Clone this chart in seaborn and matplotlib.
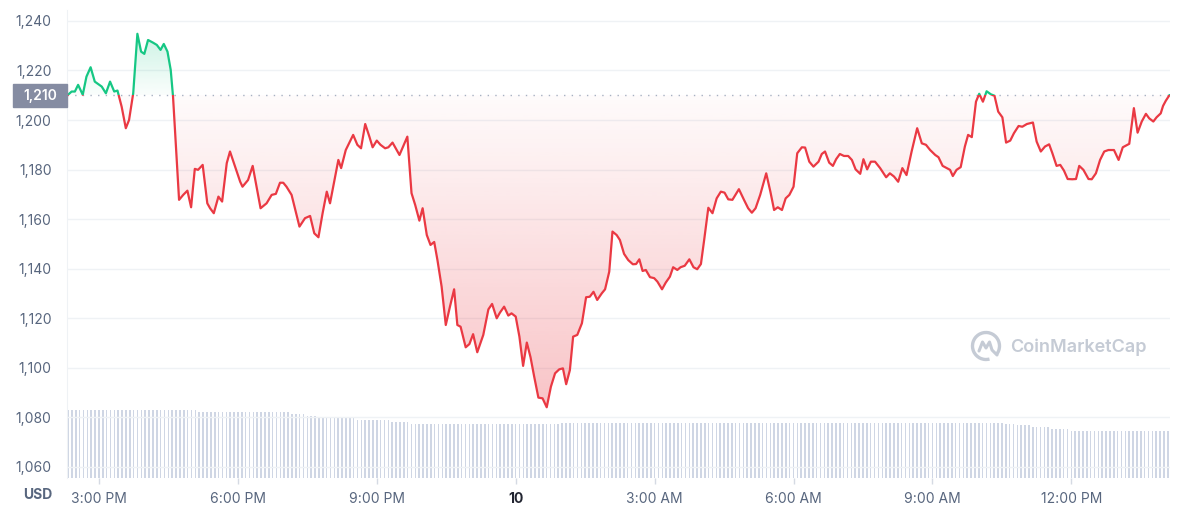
import numpy as np
import pandas as pd
import matplotlib
matplotlib.use("Agg")
import matplotlib.pyplot as plt
import seaborn as sns
from matplotlib.patches import Rectangle, Arc
from matplotlib.path import Path
from matplotlib.lines import Line2D
from matplotlib.transforms import blended_transform_factory, IdentityTransform
from matplotlib.colors import to_rgb

# Waktu dalam jam sejak tengah malam hari sebelumnya (24 = tanggal 10, 00:00)
jam = [
    14.32, 14.41, 14.48, 14.55, 14.65, 14.73, 14.82, 14.91, 15.06, 15.15,
    15.24, 15.33, 15.40, 15.49, 15.58, 15.65, 15.74, 15.83, 15.91, 15.98,
    16.06, 16.17, 16.25, 16.33, 16.40, 16.48, 16.55, 16.60, 16.73, 16.82,
    16.91, 16.99, 17.07, 17.14, 17.24, 17.34, 17.40, 17.48, 17.58, 17.66,
    17.76, 17.83, 17.94, 18.05, 18.10, 18.22, 18.32, 18.49, 18.62, 18.73,
    18.82, 18.91, 18.98, 19.05, 19.16, 19.33, 19.45, 19.56, 19.65, 19.74,
    19.83, 19.92, 19.99, 20.08, 20.17, 20.23, 20.33, 20.49, 20.58, 20.66,
    20.75, 20.84, 20.91, 21.00, 21.08, 21.18, 21.25, 21.34, 21.49, 21.66,
    21.75, 21.83, 21.92, 21.99, 22.08, 22.16, 22.24, 22.31, 22.40, 22.49,
    22.58, 22.67, 22.74, 22.81, 22.92, 23.00, 23.08, 23.17, 23.30, 23.41,
    23.49, 23.59, 23.66, 23.75, 23.84, 23.91, 24.00, 24.08, 24.16, 24.24,
    24.32, 24.40, 24.49, 24.58, 24.67, 24.76, 24.85, 24.94, 25.02, 25.09,
    25.17, 25.24, 25.33, 25.43, 25.52, 25.60, 25.68, 25.76, 25.86, 25.93,
    26.02, 26.09, 26.18, 26.25, 26.34, 26.43, 26.53, 26.60, 26.67, 26.74,
    26.81, 26.90, 26.99, 27.06, 27.16, 27.24, 27.33, 27.40, 27.49, 27.56,
    27.65, 27.75, 27.84, 27.92, 28.00, 28.07, 28.16, 28.25, 28.34, 28.43,
    28.51, 28.59, 28.68, 28.82, 28.93, 29.02, 29.10, 29.18, 29.28, 29.41,
    29.50, 29.58, 29.66, 29.75, 29.83, 29.91, 30.00, 30.08, 30.18, 30.25,
    30.34, 30.43, 30.54, 30.61, 30.68, 30.77, 30.85, 30.92, 31.00, 31.09,
    31.18, 31.26, 31.34, 31.44, 31.51, 31.59, 31.67, 31.76, 31.87, 32.00,
    32.08, 32.17, 32.26, 32.35, 32.44, 32.55, 32.67, 32.77, 32.86, 32.95,
    33.06, 33.13, 33.22, 33.31, 33.38, 33.44, 33.52, 33.61, 33.70, 33.77,
    33.85, 33.94, 34.01, 34.09, 34.17, 34.26, 34.34, 34.42, 34.51, 34.59,
    34.68, 34.76, 34.86, 34.94, 35.04, 35.17, 35.25, 35.34, 35.43, 35.52,
    35.59, 35.68, 35.76, 35.84, 35.92, 36.02, 36.10, 36.17, 36.26, 36.37,
    36.44, 36.53, 36.62, 36.71, 36.80, 36.92, 37.02, 37.11, 37.25, 37.35,
    37.43, 37.52, 37.61, 37.68, 37.77, 37.84, 37.93, 37.98, 38.04, 38.09,
    38.12,
]
# Harga (USD)
harga = [
    1210.0, 1211.5, 1211.5, 1214.2, 1210.2, 1217.5, 1221.3, 1215.5, 1213.5, 1210.8,
    1215.5, 1211.5, 1211.9, 1205.4, 1196.7, 1200.0, 1210.8, 1234.8, 1227.6, 1226.7,
    1232.3, 1231.2, 1230.3, 1228.3, 1230.7, 1227.6, 1220.2, 1209.4, 1167.8, 1169.8,
    1171.5, 1164.8, 1180.3, 1179.9, 1181.9, 1166.4, 1164.4, 1162.4, 1169.1, 1167.1,
    1182.6, 1187.3, 1181.2, 1175.1, 1173.1, 1175.8, 1181.5, 1164.4, 1166.4, 1169.8,
    1170.2, 1174.7, 1174.7, 1173.1, 1169.8, 1157.0, 1160.4, 1161.3, 1154.3, 1152.7,
    1162.4, 1171.1, 1166.4, 1175.1, 1183.9, 1180.6, 1187.9, 1194.0, 1190.0, 1188.6,
    1198.4, 1193.3, 1189.0, 1191.7, 1190.0, 1188.6, 1189.0, 1190.9, 1185.9, 1193.3,
    1170.5, 1165.7, 1159.4, 1164.4, 1153.6, 1149.6, 1150.8, 1143.5, 1132.8, 1117.3,
    1124.7, 1131.7, 1117.3, 1116.6, 1108.3, 1109.6, 1113.6, 1106.3, 1113.3, 1123.6,
    1125.8, 1120.0, 1122.3, 1124.7, 1121.1, 1122.0, 1120.7, 1112.6, 1100.8, 1110.2,
    1104.3, 1096.4, 1088.0, 1087.7, 1084.1, 1092.4, 1097.8, 1099.4, 1099.8, 1093.4,
    1099.1, 1112.6, 1113.3, 1118.0, 1128.5, 1128.7, 1130.7, 1127.4, 1130.1, 1131.7,
    1138.8, 1155.0, 1153.6, 1151.6, 1146.0, 1143.5, 1141.8, 1141.9, 1143.8, 1139.1,
    1139.5, 1136.6, 1136.2, 1134.8, 1131.7, 1134.4, 1136.8, 1140.6, 1139.5, 1140.6,
    1141.2, 1143.8, 1140.6, 1139.8, 1141.9, 1151.6, 1164.6, 1162.4, 1168.4, 1171.1,
    1170.7, 1168.0, 1167.8, 1172.1, 1167.8, 1164.4, 1162.6, 1164.4, 1169.8, 1178.5,
    1171.1, 1163.7, 1164.8, 1163.7, 1168.4, 1169.8, 1173.1, 1186.6, 1189.0, 1188.9,
    1183.2, 1181.2, 1183.2, 1186.3, 1187.3, 1182.8, 1181.5, 1184.2, 1186.3, 1185.5,
    1185.5, 1183.9, 1180.1, 1178.3, 1184.2, 1180.1, 1183.2, 1183.2, 1180.6, 1176.9,
    1178.5, 1177.2, 1175.1, 1180.6, 1177.8, 1187.3, 1196.7, 1190.6, 1190.0, 1187.9,
    1185.9, 1185.0, 1181.5, 1180.6, 1179.9, 1177.4, 1179.9, 1181.0, 1189.3, 1194.0,
    1193.1, 1207.4, 1210.6, 1207.4, 1211.6, 1210.4, 1209.8, 1203.4, 1201.1, 1190.9,
    1191.7, 1194.7, 1197.6, 1197.3, 1198.4, 1199.0, 1191.3, 1187.3, 1189.3, 1190.2,
    1186.6, 1181.5, 1181.9, 1179.6, 1176.2, 1176.1, 1176.2, 1181.5, 1179.9, 1176.2,
    1176.1, 1178.5, 1183.9, 1187.3, 1187.9, 1187.9, 1183.9, 1189.0, 1190.4, 1204.8,
    1194.9, 1199.4, 1202.5, 1200.7, 1199.4, 1201.1, 1202.7, 1205.7, 1207.8, 1209.2,
    1210.1,
]
harga_acuan = 1210

# Volume per 5 menit (satuan relatif), ditulis per blok yang tingginya sama
level_volume = [68, 66.5, 64.5, 62.5, 61, 58.5, 56, 54, 55, 55.5, 54.5, 53, 51, 49, 47]
jumlah_batang = [34, 24, 4, 3, 10, 9, 5, 39, 62, 53, 3, 4, 5, 5, 26]
volume = np.repeat(level_volume, jumlah_batang)
waktu_volume = 14 + 20 / 60 + np.arange(len(volume)) * 5 / 60

tick_y = list(range(1060, 1241, 20))
tick_x = [15, 18, 21, 24, 27, 30, 33, 36]
label_x = ["3:00 PM", "6:00 PM", "9:00 PM", "10", "3:00 AM", "6:00 AM", "9:00 AM", "12:00 PM"]

merah = "#ea3943"
hijau = "#16c784"
abu = "#58667e"
xmin, xmax = 14.31, 38.13
ymin, ymax = 1055.56, 1244.4

sns.set_style("white")
plt.rcParams["font.family"] = ["Inter", "DejaVu Sans"]

fig = plt.figure(figsize=(11.82, 5.09), dpi=100)
ax = fig.add_axes([67 / 1182, 1 - 478 / 509, 1103 / 1182, 468 / 509])
ax_vol = ax.twinx()

# batang volume di bagian bawah
ax_vol.bar(waktu_volume, volume, width=0.034, color="#cfd6e4", linewidth=0)
ax_vol.set_ylim(0, 468)
ax_vol.set_axis_off()
ax_vol.set_zorder(1)
ax.set_zorder(2)
ax.patch.set_visible(False)


def isi_gradien(kondisi, warna, y_bawah, y_atas, alpha_bawah, alpha_atas):
    poly = ax.fill_between(jam, harga, harga_acuan, where=kondisi, interpolate=True,
                           color="none", lw=0)
    path = Path.make_compound_path(*poly.get_paths())
    rgba = np.zeros((256, 1, 4))
    rgba[..., :3] = to_rgb(warna)
    rgba[..., 3] = np.linspace(alpha_bawah, alpha_atas, 256)[:, None]
    im = ax.imshow(rgba, extent=[xmin, xmax, y_bawah, y_atas], origin="lower",
                   aspect="auto", zorder=1, interpolation="bilinear")
    im.set_clip_path(path, ax.transData)


arr = np.array(harga)
isi_gradien(arr <= harga_acuan, merah, 1084, harga_acuan, 0.30, 0.02)
isi_gradien(arr >= harga_acuan, hijau, harga_acuan, 1235, 0.02, 0.22)

# garis harga: hijau di atas acuan, merah di bawah
df = pd.DataFrame({"jam": jam, "harga": harga})
sns.lineplot(data=df, x="jam", y="harga", color=hijau, lw=1.6, estimator=None, ax=ax, zorder=4)
garis_hijau = ax.lines[-1]
sns.lineplot(data=df, x="jam", y="harga", color=merah, lw=1.6, estimator=None, ax=ax, zorder=4)
garis_merah = ax.lines[-1]
garis_hijau.set_clip_path(Rectangle((xmin, harga_acuan), xmax - xmin, 100, transform=ax.transData))
garis_merah.set_clip_path(Rectangle((xmin, 1000), xmax - xmin, harga_acuan - 1000, transform=ax.transData))
for g in (garis_hijau, garis_merah):
    g.set_solid_joinstyle("round")

ax.axhline(harga_acuan, color="#a7b1c2", lw=1, ls=(0, (1, 4.5)), zorder=3)

ax.set_xlim(xmin, xmax)
ax.set_ylim(ymin, ymax)
ax.set_xlabel("")
ax.set_ylabel("")
ax.set_yticks(tick_y, [f"{v:,}" for v in tick_y])
ax.set_xticks(tick_x, label_x)
ax.grid(axis="y", color="#eff2f5", lw=1)
ax.set_axisbelow(True)
ax.tick_params(axis="y", left=False, length=0, pad=11, labelsize=10, labelcolor=abu)
ax.tick_params(axis="x", bottom=True, length=4, width=1, color="#d5dae3", pad=6,
               labelsize=10, labelcolor=abu)
lbl10 = ax.get_xticklabels()[3]
lbl10.set_fontweight("bold")
lbl10.set_color("#222531")
for s in ["top", "right", "bottom"]:
    ax.spines[s].set_visible(False)
ax.spines["left"].set_color("#eff2f5")

# kotak label harga acuan
trans = blended_transform_factory(ax.transAxes, ax.transData)
ax.add_patch(Rectangle((-54 / 1103, 1205.2), 54 / 1103, 9.3, transform=trans,
                       color="#858ca2", clip_on=False, zorder=5))
ax.text(-27 / 1103, 1209.9, "1,210", transform=trans, ha="center", va="center",
        color="white", fontsize=10, fontweight="semibold", zorder=6)

fig.text(38 / 1182, 1 - 495 / 509, "USD", ha="center", va="center", fontsize=10,
         fontweight="bold", color=abu)

# watermark
warna_wm = "#c5cbd5"
fig.text(1010 / 1182, 1 - 347 / 509, "CoinMarketCap", ha="left", va="center",
         fontsize=13, fontweight="semibold", color=warna_wm)
cx, cy = 986, 509 - 346
fig.add_artist(Arc((cx, cy), 27, 27, theta1=-40, theta2=285, lw=2.4, color=warna_wm,
                   transform=IdentityTransform()))
fig.add_artist(Line2D([cx - 7, cx - 3.5, cx, cx + 3.5, cx + 6, cx + 11],
                      [cy - 5, cy + 4, cy - 2, cy + 4, cy - 4, cy - 9],
                      lw=2.2, color=warna_wm, transform=IdentityTransform(),
                      solid_joinstyle="round", solid_capstyle="round"))

fig.savefig("out.png", dpi=100, facecolor="white")
